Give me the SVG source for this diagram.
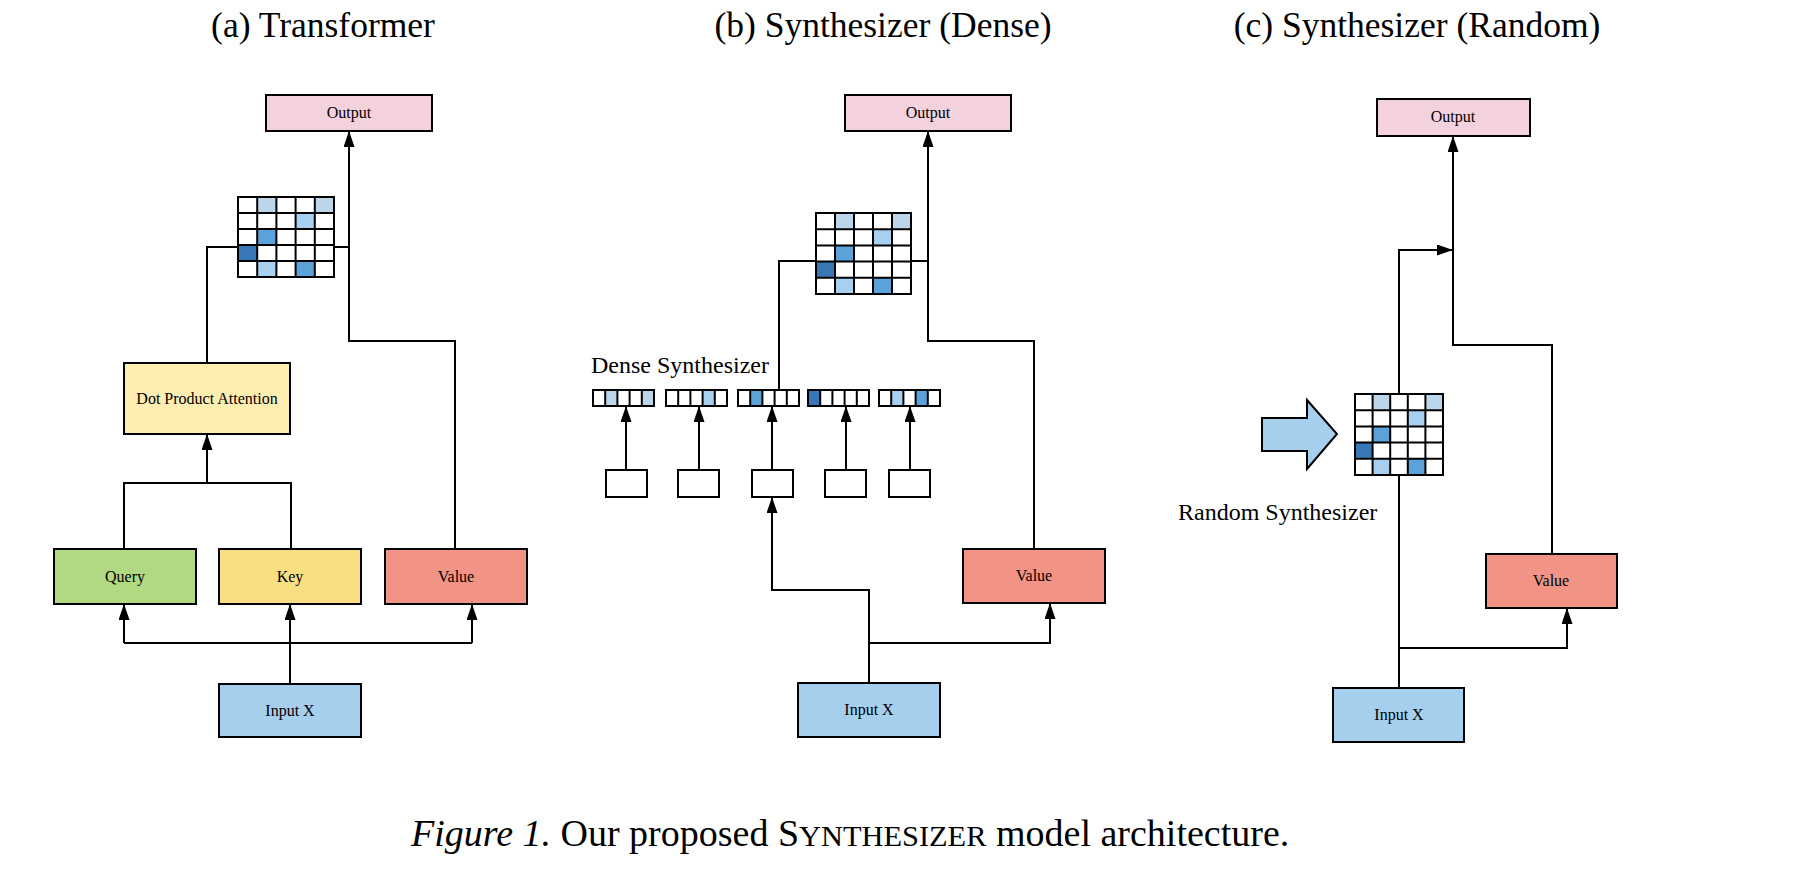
<svg xmlns="http://www.w3.org/2000/svg" width="1794" height="882" viewBox="0 0 1794 882">
<style>
.bg{fill:#fff}
.box{stroke:#000;stroke-width:2}
.lbl{font-family:"Liberation Serif","Times New Roman",serif;font-size:16px;text-anchor:middle;fill:#000}
.ttl{font-family:"Liberation Serif","Times New Roman",serif;font-size:35.5px;text-anchor:middle;fill:#000}
.big{font-family:"Liberation Serif","Times New Roman",serif;font-size:24px;fill:#000}
.cap{font-family:"Liberation Serif","Times New Roman",serif;font-size:38px;fill:#000}
.conn{fill:none;stroke:#000;stroke-width:2}
.arr{fill:none;stroke:#000;stroke-width:2;marker-end:url(#ah)}
.grid{fill:none;stroke:#000;stroke-width:2}
.cw{fill:#fff;stroke:#000;stroke-width:2}
.c1{fill:#bbd5ea}
.c2{fill:#a6cff0}
.c3{fill:#5aa2d8}
.c4{fill:#3878b6}
.out{fill:#f3d2de}
.dot{fill:#fdedb1}
.qry{fill:#b0d982}
.key{fill:#fadf82}
.val{fill:#f19486}
.inp{fill:#a6cfee}
</style>
<defs>
<marker id="ah" viewBox="0 0 16 11" refX="16" refY="5.5" markerWidth="16" markerHeight="11" markerUnits="userSpaceOnUse" orient="auto">
<path d="M0,0 L16,5.5 L0,11 z" fill="#000"/>
</marker>
</defs>
<rect class="bg" x="0" y="0" width="1794" height="882"/>

<g id="titles">
<text class="ttl" x="323" y="37">(a) Transformer</text>
<text class="ttl" x="883" y="37">(b) Synthesizer (Dense)</text>
<text class="ttl" x="1417" y="37">(c) Synthesizer (Random)</text>
</g>

<g id="connectors">
<!-- panel a -->
<polyline class="conn" points="207,363 207,247 349,247"/>
<polyline class="arr" points="455,549 455,341 349,341 349,131"/>
<polyline class="conn" points="124,549 124,483 291,483 291,549"/>
<polyline class="arr" points="207,483 207,434"/>
<polyline class="arr" points="290,684 290,604"/>
<polyline class="conn" points="124,643 472,643"/>
<polyline class="arr" points="124,643 124,604"/>
<polyline class="arr" points="472,643 472,604"/>
<!-- panel b -->
<polyline class="conn" points="779,390 779,261 928,261"/>
<polyline class="arr" points="1034,549 1034,341 928,341 928,131"/>
<polyline class="arr" points="626,470 626,406"/>
<polyline class="arr" points="699,470 699,406"/>
<polyline class="arr" points="772,470 772,406"/>
<polyline class="arr" points="846,470 846,406"/>
<polyline class="arr" points="910,470 910,406"/>
<polyline class="arr" points="869,683 869,590 772,590 772,497"/>
<polyline class="arr" points="869,643 1050,643 1050,603"/>
<!-- panel c -->
<polyline class="arr" points="1552,554 1552,345 1453,345 1453,136"/>
<polyline class="arr" points="1399,688 1399,250 1453,250"/>
<polyline class="arr" points="1399,648 1567,648 1567,608"/>
</g>

<!-- panel a nodes -->
<g id="a-output"><rect class="box out" x="266" y="95" width="166" height="36"/><text class="lbl" x="349" y="118">Output</text></g>
<g id="a-matrix">
<rect class="cw" x="238" y="197" width="96" height="80"/>
<rect class="c1" x="257.2" y="197" width="19.2" height="16"/>
<rect class="c1" x="314.8" y="197" width="19.2" height="16"/>
<rect class="c2" x="295.6" y="213" width="19.2" height="16"/>
<rect class="c3" x="257.2" y="229" width="19.2" height="16"/>
<rect class="c4" x="238" y="245" width="19.2" height="16"/>
<rect class="c2" x="257.2" y="261" width="19.2" height="16"/>
<rect class="c3" x="295.6" y="261" width="19.2" height="16"/>
<path class="grid" d="M257.2,197V277M276.4,197V277M295.6,197V277M314.8,197V277M238,213H334M238,229H334M238,245H334M238,261H334"/>
<rect class="grid" x="238" y="197" width="96" height="80"/>
</g>
<g id="a-dot"><rect class="box dot" x="124" y="363" width="166" height="71"/><text class="lbl" x="207" y="404">Dot Product Attention</text></g>
<g id="a-query"><rect class="box qry" x="54" y="549" width="142" height="55"/><text class="lbl" x="125" y="582">Query</text></g>
<g id="a-key"><rect class="box key" x="219" y="549" width="142" height="55"/><text class="lbl" x="290" y="582">Key</text></g>
<g id="a-value"><rect class="box val" x="385" y="549" width="142" height="55"/><text class="lbl" x="456" y="582">Value</text></g>
<g id="a-input"><rect class="box inp" x="219" y="684" width="142" height="53"/><text class="lbl" x="290" y="716">Input X</text></g>

<!-- panel b nodes -->
<g id="b-output"><rect class="box out" x="845" y="95" width="166" height="36"/><text class="lbl" x="928" y="118">Output</text></g>
<g id="b-matrix">
<rect class="cw" x="816" y="213" width="95" height="81"/>
<rect class="c1" x="835" y="213" width="19" height="16.2"/>
<rect class="c1" x="892" y="213" width="19" height="16.2"/>
<rect class="c2" x="873" y="229.2" width="19" height="16.2"/>
<rect class="c3" x="835" y="245.4" width="19" height="16.2"/>
<rect class="c4" x="816" y="261.6" width="19" height="16.2"/>
<rect class="c2" x="835" y="277.8" width="19" height="16.2"/>
<rect class="c3" x="873" y="277.8" width="19" height="16.2"/>
<path class="grid" d="M835,213V294M854,213V294M873,213V294M892,213V294M816,229.2H911M816,245.4H911M816,261.6H911M816,277.8H911"/>
<rect class="grid" x="816" y="213" width="95" height="81"/>
</g>
<g id="b-label"><text class="big" x="591" y="373">Dense Synthesizer</text></g>
<g id="b-vec1">
<rect class="cw" x="593" y="390" width="61" height="16"/>
<rect class="c1" x="605.2" y="390" width="12.2" height="16"/>
<rect class="c1" x="641.8" y="390" width="12.2" height="16"/>
<path class="grid" d="M605.2,390V406M617.4,390V406M629.6,390V406M641.8,390V406"/>
<rect class="grid" x="593" y="390" width="61" height="16"/>
</g>
<g id="b-vec2">
<rect class="cw" x="666" y="390" width="61" height="16"/>
<rect class="c2" x="702.6" y="390" width="12.2" height="16"/>
<path class="grid" d="M678.2,390V406M690.4,390V406M702.6,390V406M714.8,390V406"/>
<rect class="grid" x="666" y="390" width="61" height="16"/>
</g>
<g id="b-vec3">
<rect class="cw" x="738" y="390" width="61" height="16"/>
<rect class="c3" x="750.2" y="390" width="12.2" height="16"/>
<path class="grid" d="M750.2,390V406M762.4,390V406M774.6,390V406M786.8,390V406"/>
<rect class="grid" x="738" y="390" width="61" height="16"/>
</g>
<g id="b-vec4">
<rect class="cw" x="808" y="390" width="61" height="16"/>
<rect class="c4" x="808" y="390" width="12.2" height="16"/>
<path class="grid" d="M820.2,390V406M832.4,390V406M844.6,390V406M856.8,390V406"/>
<rect class="grid" x="808" y="390" width="61" height="16"/>
</g>
<g id="b-vec5">
<rect class="cw" x="879" y="390" width="61" height="16"/>
<rect class="c2" x="891.2" y="390" width="12.2" height="16"/>
<rect class="c3" x="915.6" y="390" width="12.2" height="16"/>
<path class="grid" d="M891.2,390V406M903.4,390V406M915.6,390V406M927.8,390V406"/>
<rect class="grid" x="879" y="390" width="61" height="16"/>
</g>
<g id="b-box1"><rect class="cw" x="606" y="470" width="41" height="27"/></g>
<g id="b-box2"><rect class="cw" x="678" y="470" width="41" height="27"/></g>
<g id="b-box3"><rect class="cw" x="752" y="470" width="41" height="27"/></g>
<g id="b-box4"><rect class="cw" x="825" y="470" width="41" height="27"/></g>
<g id="b-box5"><rect class="cw" x="889" y="470" width="41" height="27"/></g>
<g id="b-value"><rect class="box val" x="963" y="549" width="142" height="54"/><text class="lbl" x="1034" y="581">Value</text></g>
<g id="b-input"><rect class="box inp" x="798" y="683" width="142" height="54"/><text class="lbl" x="869" y="715">Input X</text></g>

<!-- panel c nodes -->
<g id="c-output"><rect class="box out" x="1377" y="99" width="153" height="37"/><text class="lbl" x="1453" y="122">Output</text></g>
<g id="c-matrix">
<rect class="cw" x="1355" y="394" width="88" height="81"/>
<rect class="c1" x="1372.6" y="394" width="17.6" height="16.2"/>
<rect class="c1" x="1425.4" y="394" width="17.6" height="16.2"/>
<rect class="c2" x="1407.8" y="410.2" width="17.6" height="16.2"/>
<rect class="c3" x="1372.6" y="426.4" width="17.6" height="16.2"/>
<rect class="c4" x="1355" y="442.6" width="17.6" height="16.2"/>
<rect class="c2" x="1372.6" y="458.8" width="17.6" height="16.2"/>
<rect class="c3" x="1407.8" y="458.8" width="17.6" height="16.2"/>
<path class="grid" d="M1372.6,394V475M1390.2,394V475M1407.8,394V475M1425.4,394V475M1355,410.2H1443M1355,426.4H1443M1355,442.6H1443M1355,458.8H1443"/>
<rect class="grid" x="1355" y="394" width="88" height="81"/>
</g>
<g id="c-bigarrow"><polygon points="1262,418 1307,418 1307,400 1337,434 1307,469 1307,451 1262,451" fill="#a6cfee" stroke="#000" stroke-width="2"/></g>
<g id="c-label"><text class="big" x="1178" y="520">Random Synthesizer</text></g>
<g id="c-value"><rect class="box val" x="1486" y="554" width="131" height="54"/><text class="lbl" x="1551" y="586">Value</text></g>
<g id="c-input"><rect class="box inp" x="1333" y="688" width="131" height="54"/><text class="lbl" x="1399" y="720">Input X</text></g>

<g id="caption">
<text class="cap" x="411" y="846"><tspan font-style="italic">Figure 1.</tspan> Our proposed S<tspan font-size="30.4px">YNTHESIZER</tspan> model architecture.</text>
</g>
</svg>
